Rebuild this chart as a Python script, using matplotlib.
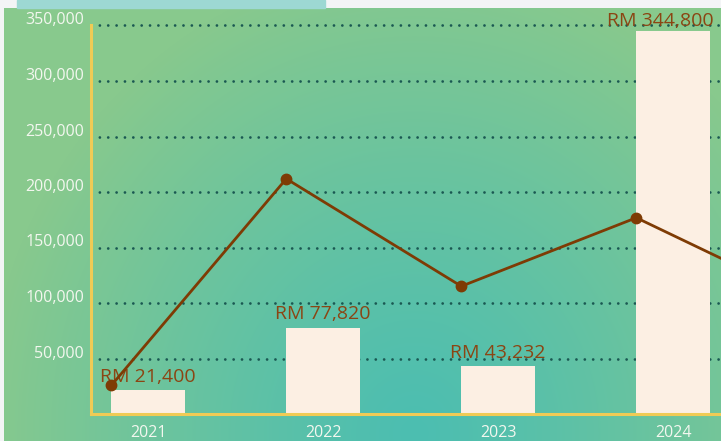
import numpy as np
import matplotlib
matplotlib.use("Agg")
import matplotlib.pyplot as plt
from matplotlib.patches import Rectangle
from matplotlib.transforms import ScaledTranslation
from matplotlib.colors import to_rgb

plt.rcParams['font.family'] = ['Open Sans', 'DejaVu Sans']

# yearly figures
years = ['2021', '2022', '2023', '2024', '2025']
bar_values = [21400, 77820, 43232, 344800]
line_values = [25700, 211900, 115100, 176800, 101300]
y_ticks = [50000, 100000, 150000, 200000, 250000, 300000, 350000]

W, H = 721, 441
fig = plt.figure(figsize=(W / 100, H / 100), dpi=100)
fig.patch.set_facecolor('#f3f4f6')

# small banner strip along the top
fig.patches.append(Rectangle((17 / W, 433 / H), (325 - 17) / W, 8 / H,
                             transform=fig.transFigure, color='#9dd8d3', zorder=0))

# radial green gradient panel
bg = fig.add_axes([4 / W, 0, 717 / W, 433 / H])
bg.set_axis_off()
gx, gy = np.meshgrid(np.arange(717), np.arange(433))
d = np.sqrt(((gx - 410) / 430.0) ** 2 + ((gy - 425) / 470.0) ** 2)
d = np.clip(d, 0, 1) ** 1.2
c_in = np.array(to_rgb('#4cbeb1'))
c_out = np.array(to_rgb('#88c98d'))
img = c_in[None, None, :] * (1 - d[..., None]) + c_out[None, None, :] * d[..., None]
bg.imshow(img, aspect='auto', interpolation='bilinear')

ax = fig.add_axes([91 / W, 27 / H, (W - 91) / W, 388.5 / H])
ax.patch.set_alpha(0)

x = np.arange(len(years))
bw = 0.42
ax.bar(x[:len(bar_values)], bar_values, width=bw, color='#fcefe3', zorder=2)
ax.plot(x - 0.21, line_values, color='#7e3b04', lw=2, marker='o', ms=7.5,
        zorder=5, clip_on=True)

for i, v in enumerate(bar_values):
    txt = 'RM {:,}'.format(v)
    if i == len(bar_values) - 1:
        # keep the last label inside the right edge
        ax.annotate(txt, (x[i] + bw / 2, v), xytext=(3, 1), textcoords='offset points',
                    ha='right', va='bottom', fontsize=14, color='#8b4513', zorder=4,
                    annotation_clip=False)
    else:
        ax.annotate(txt, (x[i], v), xytext=(0, 3), textcoords='offset points',
                    ha='center', va='bottom', fontsize=14, color='#8b4513', zorder=4,
                    annotation_clip=False)

ax.set_xticks(x)
ax.set_xticklabels(years)
ax.set_yticks(y_ticks)
ax.set_yticklabels(['{:,}'.format(t) for t in y_ticks])
ax.set_xlim(-0.326, 3.274)
ax.set_ylim(0, 350000)
ax.tick_params(axis='both', length=0, labelsize=11.5, labelcolor='#f3f7ef')
ax.tick_params(axis='x', pad=8)
ax.tick_params(axis='y', pad=5)
for lab in ax.get_yticklabels():
    lab.set_transform(lab.get_transform() + ScaledTranslation(0, 7 / 100, fig.dpi_scale_trans))

ax.grid(axis='y', color='#1a5852', lw=2, linestyle=(0, (0.01, 3)),
        dash_capstyle='round', zorder=1)
for gl in ax.get_ygridlines():
    gl.set_clip_on(False)
ax.set_axisbelow(True)
for s in ['top', 'right']:
    ax.spines[s].set_visible(False)
for s in ['left', 'bottom']:
    ax.spines[s].set_color('#f0cb55')
    ax.spines[s].set_linewidth(2.2)
    ax.spines[s].set_zorder(3)

fig.savefig('out.png', dpi=100, facecolor=fig.get_facecolor())
